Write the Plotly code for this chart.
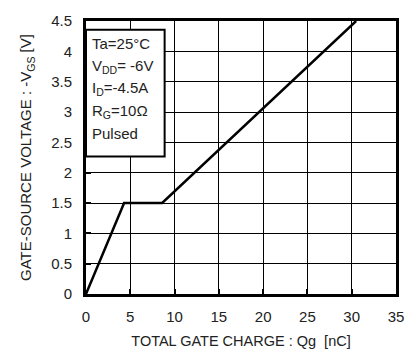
import plotly.graph_objects as go

qg = [0, 4.3, 8.6, 30.5]
vgs = [0, 1.5, 1.5, 4.5]
x_ticks = [0, 5, 10, 15, 20, 25, 30, 35]
y_ticks = [0, 0.5, 1, 1.5, 2, 2.5, 3, 3.5, 4, 4.5]
y_tick_labels = ["0", "0.5", "1", "1.5", "2", "2.5", "3", "3.5", "4", "4.5"]
cond_lines = ["Ta=25°C", "V<sub>DD</sub>= -6V", "I<sub>D</sub>=-4.5A", "R<sub>G</sub>=10Ω", "Pulsed"]

font = "Liberation Sans, Arial, sans-serif"
fig = go.Figure()
fig.add_trace(go.Scatter(x=qg, y=vgs, mode="lines", line=dict(color="black", width=2.5),
                         showlegend=False, hoverinfo="skip"))

axis_common = dict(showgrid=True, gridcolor="black", gridwidth=1, showline=True, linecolor="black",
                   linewidth=3, mirror=True, ticks="inside", ticklen=5, tickwidth=1.5, tickcolor="black",
                   zeroline=False, tickfont=dict(family=font, size=15, color="#222"))
fig.update_xaxes(range=[0, 35], tickvals=x_ticks, ticktext=[str(v) for v in x_ticks],
                 ticklabelstandoff=7,
                 title=dict(text="TOTAL GATE CHARGE : Qg  [nC]", font=dict(family=font, size=14.5, color="#222"), standoff=12),
                 **axis_common)
fig.update_yaxes(range=[0, 4.5], tickvals=y_ticks, ticktext=y_tick_labels,
                 ticklabelstandoff=8,
                 title=dict(text="GATE-SOURCE VOLTAGE : -V<sub>GS</sub> [V]", font=dict(family=font, size=15, color="#222"), standoff=16),
                 **axis_common)

x1 = (165 - 86.5) / 309.5
ytop = (294 - 23) / 280
ybot = (294 - 153) / 280
fig.add_shape(type="rect", xref="paper", yref="paper", x0=0, x1=x1, y0=ybot, y1=ytop,
              fillcolor="white", line=dict(color="black", width=2), layer="above")
for i, t in enumerate(cond_lines):
    ypix = 37 + i * 23.2
    fig.add_annotation(xref="paper", yref="paper", x=0.012, y=(294 - ypix) / 280, text=t,
                       showarrow=False, xanchor="left", yanchor="middle", align="left",
                       font=dict(family=font, size=15, color="#222"))

fig.update_layout(width=419, height=360, margin=dict(l=86, r=23, t=14, b=66),
                  plot_bgcolor="white", paper_bgcolor="white")
fig.write_html("out.html")
